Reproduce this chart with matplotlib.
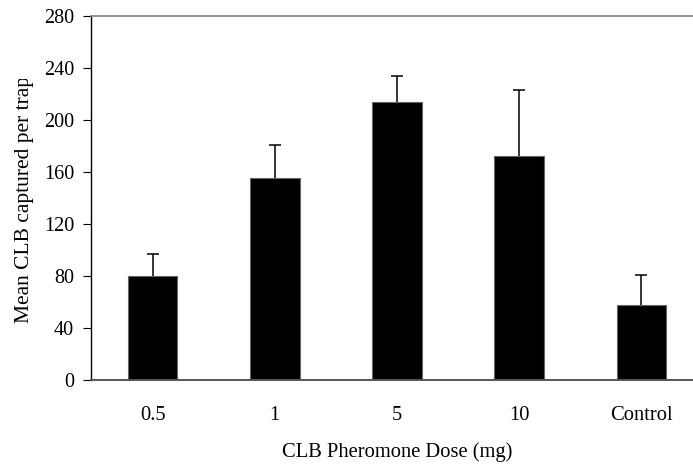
import matplotlib
matplotlib.use("Agg")
import matplotlib.pyplot as plt
from matplotlib.transforms import Bbox, TransformedBbox

plt.rcParams['font.family'] = ['Liberation Serif', 'DejaVu Serif']

doses = ['0.5', '1', '5', '10', 'Control']
mean_clb = [80, 155, 214, 172, 58]
err_up = [17, 26, 20, 51, 23]
y_ticks = [0, 40, 80, 120, 160, 200, 240, 280]

fig = plt.figure(figsize=(6.93, 4.66), dpi=100)
ax = fig.add_axes([0.132, 0.1845, 0.8817, 0.7818])

pos = range(len(doses))
ax.bar(pos, mean_clb, width=0.405, color='black', edgecolor='#666666', linewidth=0.8, zorder=2)
eb = ax.errorbar(pos, mean_clb, yerr=[[0] * len(err_up), err_up], fmt='none',
                 ecolor='black', elinewidth=1.1, capsize=4, capthick=1.1, zorder=3)
# only the upper caps
eb[1][0].set_visible(False)

ax.set_xlim(-0.5, 4.5)
ax.set_ylim(0, 280)
ax.set_yticks(y_ticks)
ax.set_xticks(list(pos))
ax.set_xticklabels(doses)

ax.spines['right'].set_visible(False)
ax.spines['top'].set_color('#808080')
ax.spines['top'].set_linewidth(1.2)
ax.spines['bottom'].set_color('#555555')
ax.spines['bottom'].set_linewidth(1.4)
ax.spines['left'].set_color('black')
ax.spines['left'].set_linewidth(1.0)

ax.tick_params(axis='y', direction='out', length=5.5, width=0.8, pad=7, labelsize=14.5)
ax.tick_params(axis='x', length=0, pad=19, labelsize=14.8)

ax.set_xlabel('CLB Pheromone Dose (mg)', fontsize=14.8, labelpad=12)
ylab = ax.set_ylabel('Mean CLB captured per trap', fontsize=15.5)
ax.yaxis.set_label_coords(-0.094, 0.495)
# the label is cut off at the top in the original
ylab.set_clip_box(TransformedBbox(Bbox([[0, 0], [1, 1 - 79 / 466]]), fig.transFigure))
ylab.set_clip_on(True)

fig.savefig('out.png', dpi=100)
